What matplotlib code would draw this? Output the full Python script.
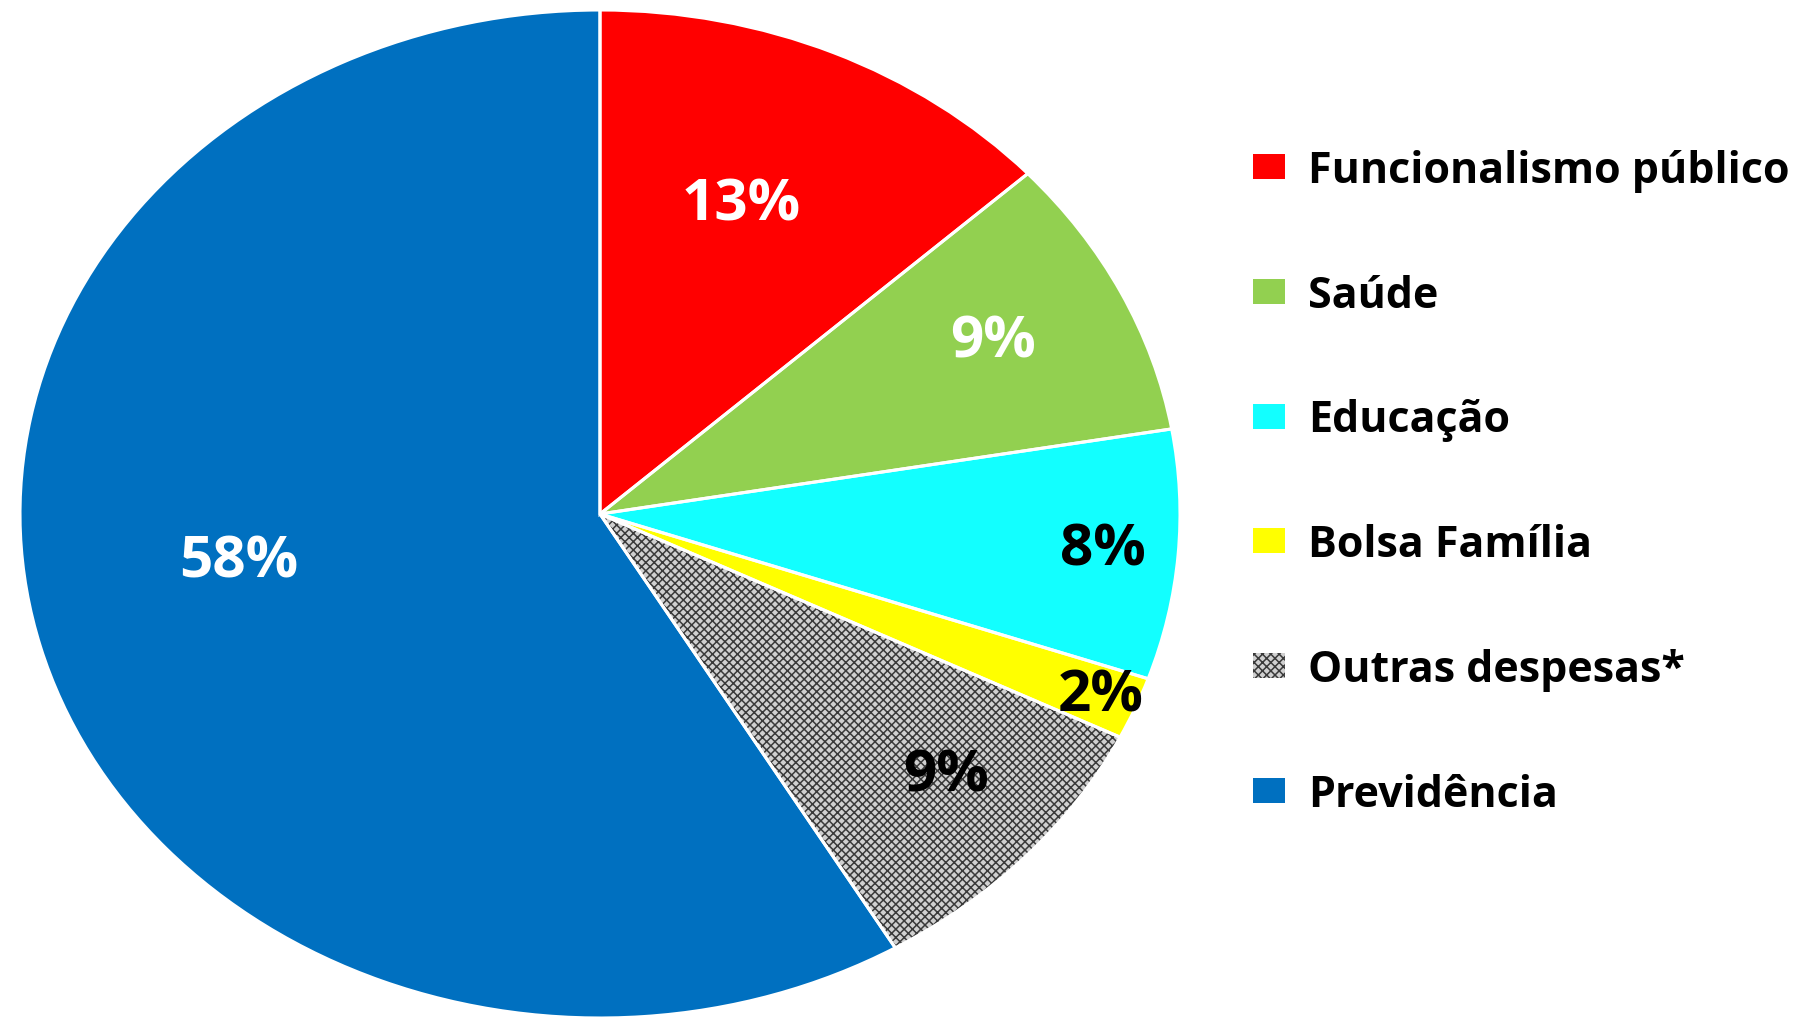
import numpy as np
import matplotlib.pyplot as plt

categories = ['Funcionalismo público', 'Saúde', 'Educação', 'Bolsa Família',
              'Outras despesas*', 'Previdência']
values = [13.2, 9.1, 8.0, 2.0, 9.2, 58.5]
value_labels = ['13%', '9%', '8%', '2%', '9%', '58%']

colors = ['#FF0000', '#92D050', '#12FFFF', '#FFFF00', '#d0d0d0', '#0070C0']
label_colors = ['white', 'white', 'black', 'black', 'black', 'white']
# (radius, angle offset in degrees) for each value label
label_pos = [(0.66, 2.2), (0.76, 0.7), (0.87, 0.1), (0.935, 0.0), (0.79, 1.8), (0.63, -6.7)]

plt.rcParams['font.family'] = ['Open Sans', 'DejaVu Sans']
plt.rcParams['hatch.linewidth'] = 1.1

W, H = 1807, 1020
fig = plt.figure(figsize=(W / 100, H / 100), dpi=100)
ax = fig.add_axes([0, 0, 1, 1])

wedges, _ = ax.pie(values, colors=colors, startangle=90, counterclock=False,
                   radius=1, wedgeprops=dict(linewidth=0))
wedges[4].set_hatch('xxxx')
wedges[4].set_edgecolor('#3a3a3a')

# white separators on top
ax.pie(values, colors=['none'] * len(values), startangle=90, counterclock=False,
       radius=1, wedgeprops=dict(linewidth=2.2, edgecolor='white'))

for w, lab, c, (r, off) in zip(wedges, value_labels, label_colors, label_pos):
    ang = np.deg2rad((w.theta1 + w.theta2) / 2 + off)
    ax.text(r * np.cos(ang), r * np.sin(ang), lab, ha='center', va='center',
            fontsize=42, fontweight='bold', color=c)

# elliptical pie: center at (600, 515) px, radii 580 x 504 px
cx, cy, rx, ry = 600, 515, 580, 504
ax.set_aspect('auto')
ax.set_xlim(-cx / rx, (W - cx) / rx)
ax.set_ylim(-(H - cy) / ry, cy / ry)
ax.axis('off')

ax.legend(wedges, categories, loc='upper left',
          bbox_to_anchor=(1214 / W, 1 - 111 / H), bbox_transform=fig.transFigure,
          frameon=False, prop=dict(size=31, weight='bold'),
          handlelength=0.74, handleheight=0.52, handletextpad=0.55, labelspacing=1.9)

fig.savefig('out.png', dpi=100)
